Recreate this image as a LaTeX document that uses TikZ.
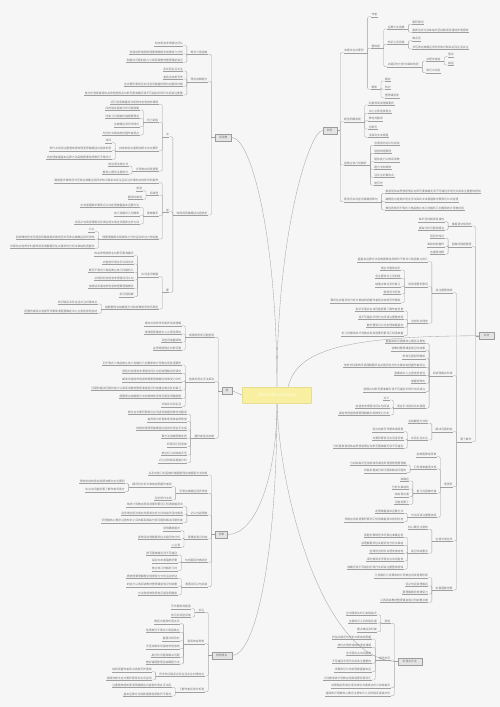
\documentclass[tikz,border=0pt]{standalone}
\usepackage{fontspec}
\usepackage{xstring}
\newfontfamily\cjk{Noto Sans CJK SC}
\definecolor{bgc}{RGB}{246,246,246}
\definecolor{lnc}{RGB}{160,160,160}
\definecolor{txc}{RGB}{118,118,118}
\definecolor{bxf}{RGB}{228,228,228}
\definecolor{bxd}{RGB}{155,155,155}
\definecolor{cef}{RGB}{248,240,160}
\definecolor{ced}{RGB}{226,212,118}
\definecolor{cet}{RGB}{255,252,228}
\newcommand\myfs{\cjk\fontsize{2.8pt}{3.1pt}\selectfont}
\newcommand\mycfs{\cjk\fontsize{3.4pt}{4pt}\selectfont}
\def\pool{掌握基础知识理解核心概念注意知识之间的联系提高分析问题和解决问题的能力认真阅读教材整理课堂笔记归纳重点难点及时复习巩固做好错题整理总结解题方法和规律熟悉常见题型明确答题步骤规范书写表达准确运用所学知识联系实际生活关注时事热点培养学科素养阅读理解要抓住关键词句分析文章结构把握作者观点态度写作要审清题意确定中心立意选择恰当材料合理安排结构语言通顺流畅文言文要积累常见实词虚词掌握特殊句式翻译时做到字字落实古诗词鉴赏要了解作者背景分析意象意境体会思想感情名句默写要准确无误不写错别字现代文阅读注重整体感知理清思路概括内容赏析语言手法探究文本意蕴数学要熟记公式定理掌握基本运算方法函数图像性质数列不等式三角函数立体几何解析几何概率统计导数应用英语要积累词汇短语掌握语法规则时态语态非谓语动词从句阅读理解完形填空语法填空书面表达听力训练每天坚持朗读背诵培养语感物理要理解概念规律受力分析运动学动力学能量守恒动量守恒电场磁场电磁感应实验设计化学要掌握元素化合物性质化学反应原理有机化学物质结构实验操作生物要理解细胞代谢遗传变异稳态调节生态系统}
\newcount\pk
\newcount\lk
\newcommand\tx[1]{%
\global\advance\pk by 1\relax
\pgfmathtruncatemacro\nn{max(1,round(#1/2.9))}%
\pgfmathtruncatemacro\st{mod(\the\pk*37,380)+1}%
\pgfmathtruncatemacro\en{\st+\nn-1}%
\StrMid{\pool}{\st}{\en}}
\newcommand\LL[4]{%
\path (#1) ++(-3.3,0) coordinate (tj) ++(-3.5,0) coordinate (tq);%
\coordinate (ty) at (0,#3);%
\node[lf, anchor=south east] (#2) at (tq |- ty) {\tx{#4}};%
\draw[ln] (#2.south west) -- (#2.south east);%
\draw[ln] (#1) -- (tj);%
\draw[ln, rounded corners=1.2pt] (tj) |- (#2.south east);}
\newcommand\RR[4]{%
\path (#1) ++(3.3,0) coordinate (tj) ++(3.5,0) coordinate (tq);%
\coordinate (ty) at (0,#3);%
\node[lf, anchor=south west] (#2) at (tq |- ty) {\tx{#4}};%
\draw[ln] (#2.south west) -- (#2.south east);%
\draw[ln] (#1) -- (tj);%
\draw[ln, rounded corners=1.2pt] (tj) |- (#2.south west);}
\newcommand\Ll[3]{\global\advance\lk by 1\relax\edef\doit{\noexpand\LL{#1}{q\the\lk}{#2}{#3}}\doit}
\newcommand\Rl[3]{\global\advance\lk by 1\relax\edef\doit{\noexpand\RR{#1}{q\the\lk}{#2}{#3}}\doit}
\tikzset{
 ln/.style={draw=lnc, line width=0.32pt},
 lf/.style={font=\myfs, text=txc, inner xsep=0.5pt, inner ysep=0.5pt, outer sep=0pt},
 bx/.style={draw=bxd, fill=bxf, line width=0.4pt, font=\myfs, text=txc, inner sep=1pt, minimum height=7.6pt},
 cen/.style={draw=ced, fill=cef, line width=0.5pt, minimum width=69.4pt, minimum height=16pt, font=\mycfs, text=cet, rounded corners=0.6pt}
}
\begin{document}
\begin{tikzpicture}[x=1pt,y=-1pt]
\fill[bgc] (0,0) rectangle (500,707);
\useasboundingbox (0,0) rectangle (500,707);
% main boxes
\node[bx,minimum width=16.7pt] (X) at (223.3,137.5) {\tx{9}};
\node[bx,minimum width=14pt] (R) at (329.7,130.5) {\tx{6}};
\node[bx,minimum width=15pt] (Y) at (486.5,335.8) {\tx{6}};
\node[bx,minimum width=10.6pt] (Z) at (227,390.8) {\tx{3}};
\node[bx,minimum width=12.7pt] (M) at (221.3,534.5) {\tx{6}};
\node[bx,minimum width=20pt] (S) at (221.7,655.5) {\tx{12}};
\node[bx,minimum width=24pt] (B) at (409.7,661.5) {\tx{15}};
% curves from centre
\coordinate (cn) at (277,387.3);
\coordinate (cs) at (277,403.3);
\coordinate (cr) at (288,387.3);
\coordinate (cw) at (242.3,395.3);
\draw[ln] (cn) .. controls (276.7,230) and (250,137.5) .. (X.east);
\draw[ln] (cn) .. controls (276.7,230) and (310,130.5) .. (R.west);
\draw[ln] (cr) .. controls (296,355) and (330,335.8) .. (Y.west);
\draw[ln] (cw) -- (Z.east);
\draw[ln] (cs) .. controls (276.7,480) and (255,534.5) .. (M.east);
\draw[ln] (cs) .. controls (276.7,560) and (255,655.5) .. (S.east);
\draw[ln] (cs) .. controls (280,500) and (325,661.5) .. (B.west);
\node[cen] (C) at (277,395.3) {高中各科知识点归纳总结};
% ===== top-left X
\LL{X.west}{x1}{54.3}{18.3}
\Ll{x1.south west}{45.7}{28.4}
\Ll{x1.south west}{54}{55}
\Ll{x1.south west}{62.3}{59.3}
\LL{X.west}{x2}{81.7}{18.4}
\Ll{x2.south west}{71}{21.6}
\Ll{x2.south west}{79}{21.6}
\Ll{x2.south west}{86.3}{61.6}
\Ll{x2.south west}{95}{101}
\LL{X.west}{x3}{215}{30.6}
\LL{x3.south west}{ya}{136.7}{3}
\Ll{ya.south west}{104.3}{48.3}
\LL{ya.south west}{yab}{122.3}{11.6}
\Ll{yab.south west}{110}{35}
\Ll{yab.south west}{118.3}{35}
\Ll{yab.south west}{126.7}{26.7}
\Ll{yab.south west}{135}{36.7}
\LL{ya.south west}{yac}{150.7}{40}
\Ll{yac.south west}{142.7}{6.7}
\Ll{yac.south west}{150.7}{65}
\Ll{yac.south west}{159.3}{66.6}
\LL{ya.south west}{yad}{171}{22.3}
\Ll{yad.south west}{166}{21.7}
\Ll{yad.south west}{174}{25}
\LL{x3.south west}{yb}{211.7}{3}
\Ll{yb.south west}{182.7}{108.3}
\LL{yb.south west}{ybb}{195}{8.3}
\Ll{ybb.south west}{190.7}{6.7}
\Ll{ybb.south west}{199.3}{13.3}
\LL{yb.south west}{ybc}{215.7}{11.6}
\Ll{ybc.south west}{207.3}{61.7}
\Ll{ybc.south west}{215.7}{25}
\Ll{ybc.south west}{224}{66.7}
\LL{yb.south west}{ybd}{239}{56.6}
\Ll{ybd.south west}{231.7}{5}
\Ll{ybd.south west}{239.3}{81.6}
\Ll{ybd.south west}{248.3}{88}
\LL{x3.south west}{yc}{292.3}{3}
\LL{yc.south west}{yca}{276.7}{18.3}
\Ll{yca.south west}{255.7}{41.7}
\Ll{yca.south west}{264}{31.7}
\Ll{yca.south west}{272.3}{45}
\Ll{yca.south west}{280}{40}
\Ll{yca.south west}{288.3}{46.7}
\Ll{yca.south west}{296.7}{13.4}
\LL{yc.south west}{ycb}{309}{55}
\Ll{ycb.south west}{304}{41.7}
\Ll{ycb.south west}{313.3}{75}
% ===== top-right R
\RR{R.east}{r1}{52.7}{20}
\Rl{r1.south east}{16.7}{5.3}
\RR{r1.south east}{r1b}{48.3}{7.6}
\RR{r1b.south east}{rb1}{29}{18.3}
\Rl{rb1.south east}{24.3}{11}
\Rl{rb1.south east}{32.3}{57.7}
\RR{r1b.south east}{rb2}{44.3}{18.3}
\Rl{rb2.south east}{40.7}{9.3}
\Rl{rb2.south east}{49}{57.7}
\RR{r1b.south east}{rb3}{66.7}{31.6}
\RR{rb3.south east}{rb3a}{61}{15}
\Rl{rb3a.south east}{56.7}{6.7}
\Rl{rb3a.south east}{65}{6.7}
\Rl{rb3.south east}{72.7}{15}
\RR{r1.south east}{r1c}{89.3}{5.3}
\Rl{r1c.south east}{81}{5.7}
\Rl{r1c.south east}{89.3}{5.7}
\Rl{r1c.south east}{97.7}{15.7}
\RR{R.east}{r2}{121.7}{16.6}
\Rl{r2.south east}{105}{25}
\Rl{r2.south east}{113.3}{23.3}
\Rl{r2.south east}{120.7}{15}
\Rl{r2.south east}{129}{10}
\Rl{r2.south east}{137.3}{21.7}
\RR{R.east}{r3}{165}{23.4}
\Rl{r3.south east}{145.3}{25}
\Rl{r3.south east}{153.3}{16.7}
\Rl{r3.south east}{161.7}{25}
\Rl{r3.south east}{169.3}{16.7}
\Rl{r3.south east}{177.3}{21.7}
\Rl{r3.south east}{185.3}{10}
\RR{R.east}{r4}{201.7}{35}
\Rl{r4.south east}{193.3}{97.3}
\Rl{r4.south east}{201.7}{74}
\Rl{r4.south east}{210}{80.6}
% ===== right Y
\LL{Y.west}{ga}{226}{20}
\Ll{ga.south west}{221.7}{26.7}
\Ll{ga.south west}{230}{26.7}
\LL{Y.west}{gb}{246.7}{20}
\Ll{gb.south west}{238.3}{13.4}
\Ll{gb.south west}{246.7}{16.6}
\Ll{gb.south west}{254.3}{15}
\LL{Y.west}{gc}{441.7}{11.7}
\LL{gc.south west}{ha}{292.7}{18.4}
\Ll{ha.south west}{261.7}{71.7}
\LL{ha.south west}{ha1}{286.7}{20}
\Ll{ha1.south west}{270}{20}
\Ll{ha1.south west}{278.3}{26.7}
\Ll{ha1.south west}{286.7}{26}
\Ll{ha1.south west}{294}{18.7}
\Ll{ha1.south west}{302.7}{73.4}
\LL{ha.south west}{ha2}{323.3}{18.4}
\Ll{ha2.south west}{311}{48.4}
\Ll{ha2.south west}{319.3}{45}
\Ll{ha2.south west}{327.3}{36.7}
\Ll{ha2.south west}{335.7}{65}
\LL{gc.south west}{hb}{375.7}{20}
\Ll{hb.south west}{343.3}{41.6}
\Ll{hb.south west}{350.7}{35}
\Ll{hb.south west}{358.7}{23.3}
\Ll{hb.south west}{367.3}{85}
\Ll{hb.south west}{375.3}{33.3}
\Ll{hb.south west}{383.3}{13.3}
\Ll{hb.south west}{391.7}{65}
\LL{hb.south west}{hb8}{408.3}{30}
\Ll{hb8.south west}{400}{6.7}
\Ll{hb8.south west}{408.3}{35}
\Ll{hb8.south west}{415}{53.3}
\LL{gc.south west}{hc}{431.7}{16.7}
\Ll{hc.south west}{423.3}{20}
\LL{hc.south west}{hc2}{440}{16.7}
\Ll{hc2.south west}{431.7}{33.3}
\Ll{hc2.south west}{440}{33.3}
\Ll{hc2.south west}{448.3}{71.7}
\LL{gc.south west}{hg}{486.7}{8.4}
\Ll{hg.south west}{456.7}{20}
\LL{hg.south west}{hd}{469}{23.4}
\Ll{hd.south west}{465}{58.3}
\Ll{hd.south west}{472.7}{43.3}
\LL{hg.south west}{he}{493.3}{21.7}
\Ll{he.south west}{481}{8.3}
\Ll{he.south west}{489}{18.3}
\Ll{he.south west}{496.7}{13.3}
\Ll{he.south west}{504.3}{13.3}
\LL{hg.south west}{hf}{517.3}{25}
\Ll{hf.south west}{513.3}{28.3}
\Ll{hf.south west}{521.7}{61.7}
\LL{gc.south west}{hh}{541}{18.4}
\Ll{hh.south west}{529.3}{21.7}
\LL{hh.south west}{hh2}{553.3}{18.4}
\Ll{hh2.south west}{537.3}{41.7}
\Ll{hh2.south west}{545.3}{43.4}
\Ll{hh2.south west}{553.3}{35}
\Ll{hh2.south west}{561}{38.4}
\Ll{hh2.south west}{569.3}{58.4}
\LL{gc.south west}{hi}{590}{16.7}
\Ll{hi.south west}{577.7}{55}
\Ll{hi.south west}{586}{23.4}
\Ll{hi.south west}{594}{26.7}
\Ll{hi.south west}{602.3}{48.4}
% ===== middle-left Z
\LL{Z.west}{ja}{337.3}{25}
\Ll{ja.south west}{325.7}{38.3}
\Ll{ja.south west}{334}{36.6}
\Ll{ja.south west}{342}{20}
\Ll{ja.south west}{350}{28.3}
\LL{Z.west}{ka}{381.7}{25}
\Ll{ka.south west}{365}{81.6}
\Ll{ka.south west}{373.3}{60}
\Ll{ka.south west}{381.7}{60}
\Ll{ka.south west}{390}{91.6}
\Ll{ka.south west}{398.3}{63.3}
\Ll{ka.south west}{406.7}{20}
\LL{Z.west}{la}{438.3}{21.7}
\Ll{la.south west}{414.3}{61.7}
\Ll{la.south west}{421.7}{41.7}
\Ll{la.south west}{430}{51.7}
\Ll{la.south west}{438.3}{25}
\Ll{la.south west}{446.7}{20}
\Ll{la.south west}{455}{26.7}
\Ll{la.south west}{462.7}{30}
% ===== lower-left M
\Ll{M.west}{475}{61.6}
\LL{M.west}{na}{493.3}{30}
\LL{na.south west}{na1}{486.7}{40}
\Ll{na1.south west}{483.3}{46.7}
\Ll{na1.south west}{491.7}{41.7}
\Ll{na.south west}{500}{16.7}
\LL{M.west}{oa}{515}{18.3}
\Ll{oa.south west}{506.7}{58.3}
\Ll{oa.south west}{515}{63.3}
\Ll{oa.south west}{522.7}{85}
\LL{M.west}{pa}{539}{20}
\Ll{pa.south west}{530.7}{16.7}
\Ll{pa.south west}{539}{43.3}
\Ll{pa.south west}{547.3}{10}
\LL{M.west}{qa}{562.3}{23.3}
\Ll{qa.south west}{555}{31.7}
\Ll{qa.south west}{562.7}{25}
\Ll{qa.south west}{570.7}{25}
\LL{M.west}{ra}{586.7}{23.3}
\Ll{ra.south west}{578.3}{53.3}
\Ll{ra.south west}{586.7}{53.3}
\Ll{ra.south west}{595}{40}
% ===== bottom-left S
\LL{S.west}{ta}{612.3}{6.7}
\Ll{ta.south west}{608.7}{20.6}
\Ll{ta.south west}{617}{20.6}
\LL{S.west}{ua}{643.7}{16.7}
\Ll{ua.south west}{623.7}{25}
\Ll{ua.south west}{632.3}{35}
\Ll{ua.south west}{640.7}{18.4}
\Ll{ua.south west}{648.7}{33.4}
\Ll{ua.south west}{657.3}{28.3}
\Ll{ua.south west}{664}{33.4}
\LL{S.west}{va}{676}{46.7}
\Ll{va.south west}{671.7}{40}
\Ll{va.south west}{680}{46.6}
\LL{S.west}{wa}{691.7}{26.7}
\Ll{wa.south west}{687.3}{61.6}
\Ll{wa.south west}{696}{50}
% ===== bottom-right B
\LL{B.west}{ba}{623.3}{6.7}
\Ll{ba.south west}{615}{31.7}
\Ll{ba.south west}{623.3}{30}
\Ll{ba.south west}{631.7}{20}
\LL{B.west}{bb}{660}{11.7}
\Ll{bb.south west}{639}{40}
\Ll{bb.south west}{647.3}{35}
\Ll{bb.south west}{655}{25}
\Ll{bb.south west}{663.3}{41.7}
\Ll{bb.south west}{671.7}{36.7}
\Ll{bb.south west}{680}{48.4}
\Ll{B.west}{687.7}{61.7}
\Ll{B.west}{695.7}{66.7}
\end{tikzpicture}
\end{document}
